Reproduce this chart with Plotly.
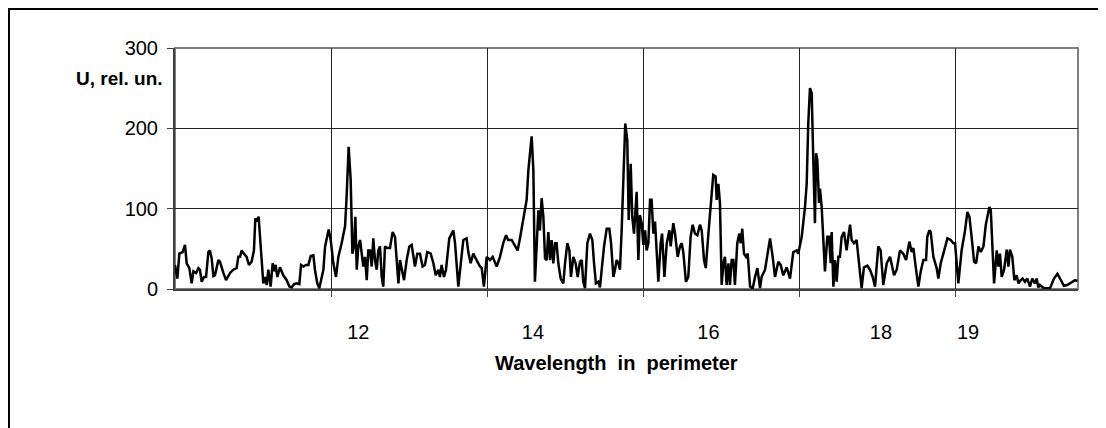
import plotly.graph_objects as go

# Sample position along the record (category index) and signal amplitude U (rel. un.)
sample_pos = [
    0, 1.5, 2.8, 4.9, 6.4, 7.5, 9.2, 10.7, 11.8, 13.5, 15.0, 16.0, 17.1, 18.6, 19.9, 21.4, 22.4, 23.5, 24.6, 25.6,
    27.8, 28.8, 31.0, 32.7, 35.3, 37.4, 39.5, 40.6, 41.7, 42.7, 44.2, 45.9, 47.4, 49.1, 50.6, 51.5, 52.4, 53.6, 54.5, 55.6,
    56.6, 57.7, 58.8, 59.8, 61.3, 62.6, 63.5, 64.5, 65.6, 67.3, 69.4, 71.6, 73.3, 74.8, 76.3, 78.0, 79.7, 80.8, 82.3, 84.0,
    85.5, 87.0, 88.7, 89.7, 91.2, 92.5, 94.0, 95.1, 96.2, 98.5, 99.8, 101.5, 103.2, 104.7, 106.8, 109.0, 110.0, 111.3, 112.6, 113.7,
    114.7, 115.6, 116.5, 117.5, 118.6, 119.7, 120.7, 121.8, 122.9, 123.9, 125.0, 126.1, 127.1, 128.2, 129.3, 130.3, 131.4, 132.5, 133.5, 134.6,
    136.1, 137.8, 139.5, 141.0, 142.1, 143.2, 144.2,
    146.8, 148.5, 150.2, 151.7, 153.8, 155.3, 157.0, 158.7, 160.2, 161.7, 163.9, 165.6, 167.1, 168.8, 169.8, 170.9, 172.4, 173.7, 175.8, 178.4,
    179.5, 181.6, 183.1, 184.8, 186.9, 188.0, 189.5, 191.2, 193.3, 195.5, 196.6, 198.0, 199.8, 201.9, 203.6, 206.2, 208.3, 210.4, 212.2, 213.6,
    215.8, 217.9, 219.6, 221.1, 223.3, 225.4, 226.5, 228.6, 229.7, 230.7, 231.8, 232.9, 233.9, 235.0, 236.1, 237.2, 238.2, 239.3, 240.4, 241.4,
    242.5, 243.6, 244.6, 245.7, 247.2, 248.9, 250.0, 251.5, 252.8, 253.8, 255.3, 256.8, 258.1, 259.6, 260.7, 261.7, 262.8, 264.3, 266.0, 267.5,
    268.6, 269.8, 271.3, 272.4, 273.5, 275.0, 276.7, 278.4, 279.5, 281.0, 282.0, 283.1, 284.2, 285.2, 286.3, 287.4, 288.6, 289.9, 290.8, 292.1,
    293.1, 294.2, 294.8, 295.9, 297.0, 298.0, 299.1, 300.2, 301.3, 302.3, 303.4, 304.5, 305.5, 306.6, 307.7, 308.7, 309.8, 311.3, 312.2, 313.7,
    315.2, 316.9, 317.7, 319.4, 320.5, 322.2, 323.7, 324.8, 325.8, 327.5, 329.0, 330.5, 331.8, 333.3, 334.8, 336.5,
    337.6, 339.1, 340.2, 341.9, 343.3, 345.0, 346.5, 347.2, 348.3, 349.3, 350.4, 351.5, 352.5, 353.6, 354.7, 355.7, 356.8, 357.9, 358.9, 360.4,
    361.7, 362.6, 363.6, 364.7, 366.0, 367.1, 368.6, 370.3, 371.8, 373.3, 375.0, 376.0, 378.2, 381.4, 383.1, 384.6, 386.7, 388.2, 389.9, 392.1,
    394.2, 396.3, 398.5, 399.5, 401.7, 403.8, 404.9, 405.9, 407.0, 408.1, 409.2, 410.2, 410.9, 411.7, 412.8, 413.4, 414.5, 415.6, 416.6, 418.1,
    419.2, 420.3, 420.9, 422.0, 423.0, 424.1, 425.2, 426.2, 427.3, 428.8, 430.5, 431.6, 432.7, 433.7, 435.2, 436.9, 438.4, 440.1, 441.6, 443.8,
    445.5, 447.2, 448.7, 450.8, 452.3, 454.0, 456.2, 458.3, 460.9, 462.6, 464.7, 466.8, 468.6, 470.7, 472.2, 473.3, 475.0, 476.5, 478.0, 479.7,
    481.4, 482.2, 483.5, 484.4, 486.1, 488.2, 489.3, 490.8, 492.5, 495.1, 497.2, 498.9, 500.0, 502.1, 504.2, 506.4, 507.9, 509.2, 510.7, 512.2,
    513.5, 515.0, 516.5, 518.2, 519.7, 522.0, 522.9, 524.0, 525.0, 526.7, 527.8, 528.8,
    529.9, 531.4, 533.1, 534.2, 535.2, 536.7, 538.0, 539.5, 540.6, 542.1, 543.3, 544.8, 546.3, 548.0, 549.5, 551.2, 552.3, 553.4, 554.4, 556.2,
    557.6, 560.9, 563.4, 565.6, 567.3, 569.8, 571.9, 574.8, 576.9, 578.4,
]
u_values = [
    30, 13, 44, 46, 55, 32, 26, 7, 22, 20, 26, 24, 9, 15, 15, 46, 48, 38, 16, 17,
    36, 34, 20, 11, 20, 24, 26, 40, 40, 48, 44, 40, 30, 34, 48, 88, 84, 90, 65, 40,
    7, 15, 5, 24, 3, 32, 22, 30, 15, 27, 17, 11, 3, 2, 6, 7, 6, 30, 28, 30,
    30, 41, 42, 24, 7, 1, 13, 24, 53, 74, 61, 32, 15, 40, 57, 78, 115, 177, 136, 44,
    53, 90, 24, 53, 61, 44, 28, 40, 11, 48, 48, 28, 63, 36, 24, 48, 53, 15, 3, 53,
    51, 51, 71, 65, 32, 7, 36,
    11, 36, 53, 55, 28, 44, 44, 28, 30, 46, 44, 32, 17, 24, 15, 30, 15, 24, 63, 73,
    57, 3, 32, 61, 63, 46, 32, 44, 36, 28, 26, 3, 40, 36, 40, 28, 40, 57, 67, 61,
    61, 53, 48, 63, 90, 111, 148, 190, 148, 9, 53, 98, 73, 113, 90, 38, 36, 71, 36, 61,
    32, 57, 57, 32, 13, 7, 32, 57, 48, 15, 40, 32, 15, 34, 36, 9, 1, 57, 69, 61,
    32, 7, 9, 2, 24, 53, 75, 75, 57, 15, 24, 36, 32, 24, 73, 148, 206, 185, 86, 156,
    90, 69, 90, 121, 36, 92, 82, 55, 73, 48, 57, 111, 111, 69, 84, 53, 9, 57, 69, 15,
    57, 73, 53, 82, 69, 40, 53, 57, 46, 9, 15, 65, 80, 69, 67, 80,
    73, 36, 26, 69, 102, 142, 140, 111, 131, 107, 5, 32, 40, 5, 32, 5, 36, 36, 5, 57,
    69, 57, 75, 44, 40, 44, 3, 1, 15, 26, 1, 15, 24, 63, 40, 15, 34, 30, 17, 27,
    13, 46, 48, 44, 65, 102, 131, 206, 250, 244, 156, 82, 169, 161, 107, 125, 102, 57, 22, 65,
    65, 32, 71, 3, 36, 9, 40, 40, 65, 71, 48, 65, 80, 61, 57, 61, 32, 1, 27, 29,
    24, 15, 3, 53, 48, 5, 32, 40, 17, 24, 48, 44, 36, 59, 46, 51, 24, 3, 22, 36,
    36, 65, 73, 71, 40, 26, 13, 32, 44, 63, 61, 57, 57, 7, 48, 73, 96, 90, 63, 34,
    32, 53, 46, 53, 80, 102, 98, 57, 7, 48, 28, 44,
    15, 24, 49, 28, 49, 40, 11, 17, 7, 11, 13, 9, 13, 3, 13, 7, 13, 2, 5, 2,
    1, 1, 13, 19, 13, 4, 5, 9, 11, 10,
]

grid_positions = [100, 200, 300, 400, 500]
label_positions = [117.5, 229.4, 341.9, 452.5, 508.3]
label_texts = ["12", "14", "16", "18", "19"]
y_ticks = [0, 100, 200, 300]
x_max = 578.8

FONT = "Arial, Liberation Sans, sans-serif"

fig = go.Figure()
fig.add_trace(go.Scatter(
    x=sample_pos, y=u_values, mode="lines",
    line=dict(color="black", width=2.5), showlegend=False, hoverinfo="skip",
))
# invisible trace to activate the label axis
fig.add_trace(go.Scatter(x=[0], y=[0], xaxis="x2", mode="markers",
                         marker=dict(opacity=0), showlegend=False, hoverinfo="skip"))

# page body has an 8px margin: figure is sized so it fits the window exactly
fig.update_layout(
    width=1098, height=420,
    margin=dict(l=167, r=28, t=40, b=139, pad=0),
    paper_bgcolor="white", plot_bgcolor="white",
    font=dict(family=FONT, size=20, color="black"),
    xaxis=dict(
        range=[0, x_max], tickvals=grid_positions, ticktext=[""] * len(grid_positions),
        showgrid=True, gridcolor="#222222", gridwidth=1,
        ticks="outside", ticklen=6, tickcolor="#404040", tickwidth=1,
        showline=True, linecolor="#404040", linewidth=2, zeroline=False,
    ),
    xaxis2=dict(
        range=[0, x_max], overlaying="x", side="bottom", anchor="y",
        tickvals=label_positions, ticktext=label_texts,
        showgrid=False, showline=False, zeroline=False, ticks="",
        ticklabelstandoff=29, tickfont=dict(size=20, family=FONT, color="black"),
    ),
    yaxis=dict(
        range=[0, 300], tickvals=y_ticks,
        showgrid=True, gridcolor="#222222", gridwidth=1,
        ticks="outside", ticklen=6, tickcolor="#404040", tickwidth=1,
        showline=True, linecolor="#404040", linewidth=2, zeroline=False,
        ticklabelstandoff=5, tickfont=dict(size=20, family=FONT, color="black"),
    ),
    shapes=[
        dict(type="rect", xref="paper", yref="paper", x0=0, x1=1, y0=0, y1=1,
             line=dict(color="#808080", width=2), layer="below"),
        dict(type="rect", xref="paper", yref="paper", x0=(9 - 175) / 903, x1=1.2,
             y0=-1.0, y1=(289 - 9) / 241,
             line=dict(color="black", width=2), layer="below"),
    ],
    annotations=[
        dict(text="<b>U, rel. un.</b>", xref="paper", yref="paper",
             x=(165 - 175) / 903, y=(289 - 78) / 241, xanchor="right", yanchor="middle",
             showarrow=False, font=dict(size=19, family=FONT, color="black")),
        dict(text="<b>Wavelength\u00a0 in\u00a0 perimeter</b>", xref="paper", yref="paper",
             x=(616 - 175) / 903, y=(289 - 363) / 241, xanchor="center", yanchor="middle",
             showarrow=False, font=dict(size=20, family=FONT, color="black")),
    ],
)

fig.write_html("out.html")
